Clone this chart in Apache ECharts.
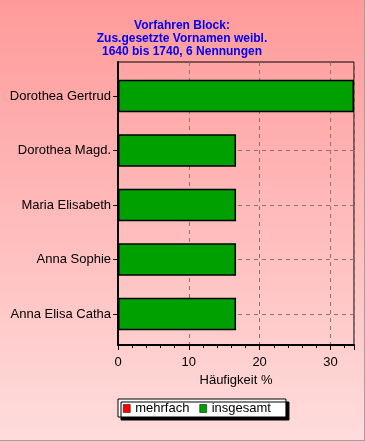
<!DOCTYPE html>
<html><head><meta charset="utf-8">
<script src="https://cdn.jsdelivr.net/npm/echarts@6/dist/echarts.min.js"></script>
<style>
html,body{margin:0;padding:0;background:#fff;}
#c{width:364px;height:440px;border-right:1px solid #a0a0a0;border-bottom:1px solid #a0a0a0;}
</style></head><body>
<div id="c"></div>
<script>
const titleLines = ['Vorfahren Block:', 'Zus.gesetzte Vornamen weibl.', '1640 bis 1740, 6 Nennungen'];
const categories = ['Dorothea Gertrud', 'Dorothea Magd.', 'Maria Elisabeth', 'Anna Sophie', 'Anna Elisa Catha'];
const insgesamt = [33.33, 16.67, 16.67, 16.67, 16.67];
const mehrfach = [0, 0, 0, 0, 0];
const xTicks = [0, 10, 20, 30];
const xMax = 33.33;
const xName = 'Häufigkeit %';

const font = 'Liberation Sans, Arial, sans-serif';
const chart = echarts.init(document.getElementById('c'));
chart.setOption({
  animation: false,
  backgroundColor: {type: 'linear', x: 0, y: 0, x2: 0, y2: 1,
    colorStops: [{offset: 0, color: '#ff9a9a'}, {offset: 1, color: '#ffdcdc'}]},
  textStyle: {fontFamily: font},
  title: {
    text: titleLines.join('\n'), left: 'center', top: 19, padding: 0,
    textStyle: {color: '#0000ee', fontSize: 12, fontWeight: 'bold', lineHeight: 13, fontFamily: font}
  },
  legend: {
    left: 118, top: 399, padding: [3, 15, 2, 5],
    itemWidth: 7, itemHeight: 8, itemGap: 10, icon: 'rect',
    backgroundColor: '#fff', borderColor: '#000', borderWidth: 1,
    shadowColor: '#000', shadowOffsetX: 3, shadowOffsetY: 3, shadowBlur: 0,
    itemStyle: {borderColor: '#000', borderWidth: 0.5},
    textStyle: {color: '#000', fontSize: 13, fontFamily: font},
    data: ['mehrfach', 'insgesamt']
  },
  grid: [
    {left: 118, top: 96, width: 236, height: 218, show: false},
    {left: 118, top: 62, width: 236, height: 283, show: true, borderColor: '#000', borderWidth: 1, backgroundColor: 'transparent'}
  ],
  xAxis: [
    {gridIndex: 0, type: 'value', min: 0, max: xMax, show: false},
    {gridIndex: 1, type: 'value', min: 0, max: xMax, interval: 10,
      axisLine: {show: true, lineStyle: {color: '#000', width: 2}},
      axisTick: {show: true, length: 5, lineStyle: {color: '#000'}},
      minorTick: {show: true, splitNumber: 5, length: 3, lineStyle: {color: '#000'}},
      axisLabel: {color: '#000', fontSize: 13, margin: 11, fontFamily: font,
        formatter: v => xTicks.includes(v) ? String(v) : ''},
      splitLine: {show: true, lineStyle: {color: '#907070', type: [4, 4], width: 1}},
      name: xName, nameLocation: 'middle', nameGap: 26,
      nameTextStyle: {color: '#000', fontSize: 13, fontFamily: font}
    }
  ],
  yAxis: [
    {gridIndex: 0, type: 'category', data: categories, inverse: true, boundaryGap: false,
      axisLine: {show: false},
      axisTick: {show: true, length: 5, lineStyle: {color: '#000'}},
      axisLabel: {color: '#000', fontSize: 13, margin: 7, interval: 0, fontFamily: font},
      splitLine: {show: true, interval: 0, lineStyle: {color: '#907070', type: [4, 4], width: 1}}
    },
    {gridIndex: 1, type: 'value', min: 0, max: 1,
      axisLine: {show: true, onZero: false, lineStyle: {color: '#000', width: 2}},
      axisTick: {show: false}, axisLabel: {show: false}, splitLine: {show: false}
    }
  ],
  series: [
    {name: 'mehrfach', type: 'bar', xAxisIndex: 0, yAxisIndex: 0, data: mehrfach,
      barWidth: '60%', barGap: '-100%', clip: false,
      itemStyle: {color: '#ff0000', borderColor: '#000', borderWidth: 1}},
    {name: 'insgesamt', type: 'bar', xAxisIndex: 0, yAxisIndex: 0, data: insgesamt,
      barWidth: '60%', barGap: '-100%', clip: false,
      itemStyle: {color: '#00a000', borderColor: '#000', borderWidth: 1.5}}
  ]
});
</script>
</body></html>
